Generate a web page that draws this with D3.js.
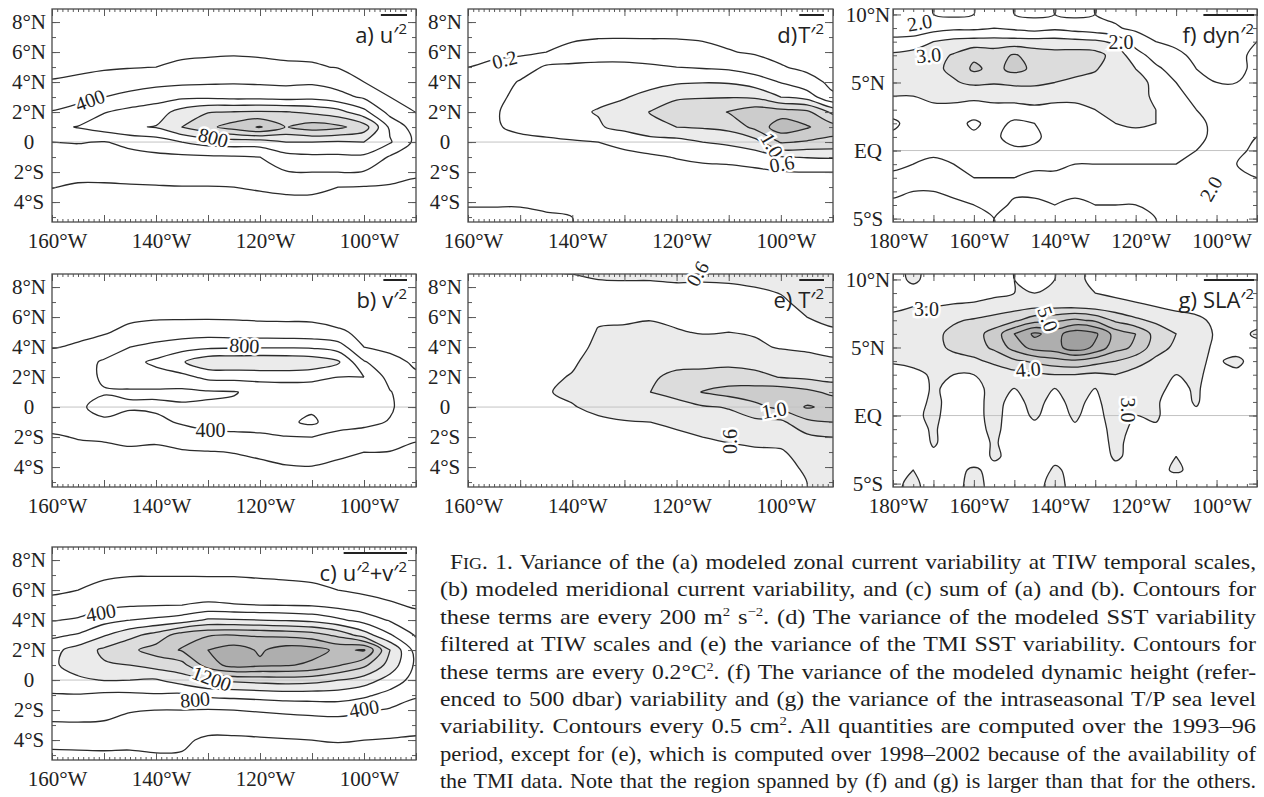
<!DOCTYPE html>
<html><head><meta charset="utf-8">
<script src="https://cdn.jsdelivr.net/npm/d3@7"></script>
<style>body{margin:0;background:#fff}svg{display:block}</style>
</head><body>
<svg id="fig" width="1264" height="797"></svg>
<script>
// ---------------- DATA ----------------
const lonsAE = [-160,-155,-150,-145,-140,-135,-130,-125,-120,-115,-110,-105,-100,-95,-90];
const latsAE = [9,8,7,6,5,4,3,2,1,0,-1,-2,-3,-4,-5];
const lonsFG = [-180,-175,-170,-165,-160,-155,-150,-145,-140,-135,-130,-125,-120,-115,-110,-105,-100,-95,-90];
const latsFG = [10,9,8,7,6,5,4,3,2,1,0,-1,-2,-3,-4,-5];

// (a) u'^2, m2 s-2 : one array per longitude (lonsAE), values from 9N to 5S
const uVar = [
 [40,60,90,120,160,210,310,410,550,400,330,270,205,150,110],
 [40,60,90,130,170,230,350,460,610,410,320,250,180,140,110],
 [40,60,90,130,180,270,400,590,700,390,330,250,180,140,110],
 [40,60,90,140,190,310,460,660,780,450,340,260,185,140,110],
 [40,60,100,150,200,340,520,700,810,500,360,270,190,140,110],
 [40,70,110,160,240,360,560,880,1000,600,360,280,195,145,110],
 [45,80,120,170,255,370,560,990,1150,680,370,280,195,150,115],
 [45,80,120,180,260,380,540,1010,1290,700,380,290,200,150,115],
 [45,80,120,170,250,370,540,1020,1420,700,400,300,215,160,120],
 [45,75,110,160,230,360,520,1010,1190,800,530,390,230,170,125],
 [45,75,110,160,220,370,540,960,1300,800,560,400,230,170,125],
 [40,70,100,140,190,320,470,880,1250,780,560,400,200,160,120],
 [40,60,90,120,160,200,370,660,1100,800,560,390,190,150,115],
 [35,50,75,100,130,160,200,330,560,620,380,290,180,140,110],
 [30,40,60,80,100,130,160,195,300,350,300,220,170,130,100]
];
// (b) v'^2
const vVar = [
 [60,80,100,130,170,195,250,300,330,320,270,180,140,110,90],
 [60,80,110,140,180,210,300,340,360,380,330,210,150,115,90],
 [60,90,120,150,185,270,430,420,390,440,380,220,160,120,95],
 [60,90,130,170,240,400,540,480,380,420,330,250,170,125,95],
 [60,90,130,180,280,460,640,520,370,430,360,230,170,125,95],
 [60,90,130,180,300,520,780,540,360,420,420,300,180,130,100],
 [60,90,130,180,310,560,950,650,380,420,460,350,190,140,100],
 [60,90,130,180,290,570,960,660,390,430,470,360,205,150,110],
 [60,90,130,170,280,580,970,670,450,470,480,370,240,155,110],
 [60,90,120,170,270,580,960,680,460,520,560,390,260,190,120],
 [60,90,120,170,260,570,930,660,470,560,640,400,270,195,125],
 [55,80,110,150,220,500,830,600,480,520,470,350,230,170,120],
 [50,70,100,130,170,200,420,600,520,500,440,330,200,150,110],
 [45,60,85,110,140,170,240,330,410,420,390,290,195,150,110],
 [40,55,70,90,110,140,180,220,270,300,270,215,170,130,100]
];
// (c) u'^2 + v'^2
const uvVar = [
 [80,110,140,180,240,390,560,740,760,680,590,470,380,250,170],
 [80,110,150,200,300,420,620,880,900,760,590,480,380,260,170],
 [90,120,170,260,350,530,780,1040,980,810,560,450,380,250,180],
 [90,130,190,290,380,600,940,1160,1000,800,560,410,350,240,180],
 [90,130,190,300,390,640,1080,1280,1080,780,580,400,340,230,195],
 [90,130,190,300,400,700,1300,1420,1130,900,560,400,320,230,190],
 [90,130,190,290,430,830,1380,1600,1500,1010,640,390,270,170,140],
 [90,130,190,280,410,820,1400,1700,1680,1050,660,400,270,170,140],
 [90,130,180,270,400,800,1380,1570,1640,1080,680,420,280,180,140],
 [85,120,170,260,390,780,1350,1700,1620,1100,700,440,290,190,145],
 [80,110,160,240,380,740,1300,1680,1560,1080,700,460,300,200,150],
 [75,100,140,200,330,640,1150,1560,1420,1000,700,470,310,210,150],
 [70,90,120,170,270,520,900,1620,1250,900,640,430,300,200,150],
 [60,80,110,150,220,380,620,1000,920,720,530,380,280,190,140],
 [55,70,95,130,180,260,380,520,560,520,420,330,250,180,130]
];
// (d) modeled SST variance, C^2
const sstModel = [
 [0.08,0.10,0.13,0.17,0.20,0.25,0.30,0.34,0.34,0.30,0.27,0.25,0.23,0.21,0.18],
 [0.08,0.11,0.14,0.18,0.22,0.28,0.34,0.38,0.38,0.33,0.29,0.26,0.24,0.21,0.18],
 [0.10,0.12,0.16,0.17,0.28,0.42,0.46,0.47,0.44,0.35,0.30,0.27,0.24,0.21,0.18],
 [0.10,0.13,0.17,0.20,0.43,0.48,0.52,0.54,0.50,0.35,0.30,0.27,0.24,0.22,0.19],
 [0.11,0.14,0.18,0.24,0.45,0.50,0.55,0.57,0.52,0.38,0.32,0.28,0.25,0.22,0.20],
 [0.12,0.15,0.19,0.28,0.46,0.52,0.57,0.61,0.58,0.40,0.34,0.30,0.27,0.24,0.21],
 [0.12,0.15,0.19,0.30,0.45,0.54,0.59,0.66,0.66,0.44,0.36,0.31,0.28,0.25,0.22],
 [0.12,0.15,0.19,0.28,0.43,0.55,0.65,0.81,0.74,0.52,0.37,0.32,0.28,0.25,0.22],
 [0.12,0.15,0.19,0.27,0.40,0.57,0.78,0.88,0.80,0.53,0.41,0.33,0.29,0.26,0.23],
 [0.12,0.14,0.18,0.25,0.38,0.59,0.79,0.90,0.82,0.60,0.44,0.34,0.30,0.26,0.23],
 [0.11,0.13,0.16,0.21,0.36,0.58,0.79,1.01,0.86,0.64,0.46,0.34,0.29,0.26,0.23],
 [0.10,0.12,0.15,0.18,0.30,0.50,0.77,1.12,1.05,0.72,0.50,0.36,0.30,0.26,0.23],
 [0.10,0.11,0.13,0.16,0.21,0.39,0.60,1.10,1.32,1.02,0.59,0.39,0.31,0.26,0.22],
 [0.09,0.10,0.12,0.14,0.17,0.25,0.52,1.05,1.22,0.98,0.61,0.40,0.31,0.24,0.20],
 [0.08,0.09,0.10,0.12,0.14,0.17,0.22,0.75,1.08,0.95,0.62,0.40,0.30,0.23,0.20]
];
// (e) TMI SST variance, C^2
const sstTMI = [
 [0.55,0.50,0.45,0.42,0.42,0.43,0.45,0.48,0.50,0.50,0.48,0.46,0.45,0.44,0.43],
 [0.57,0.50,0.46,0.43,0.43,0.45,0.48,0.52,0.54,0.53,0.50,0.48,0.46,0.45,0.44],
 [0.58,0.51,0.47,0.44,0.45,0.47,0.50,0.54,0.56,0.55,0.52,0.50,0.48,0.46,0.45],
 [0.59,0.52,0.48,0.46,0.47,0.50,0.53,0.57,0.59,0.57,0.54,0.51,0.49,0.47,0.46],
 [0.61,0.54,0.50,0.49,0.52,0.55,0.58,0.61,0.63,0.59,0.55,0.52,0.50,0.48,0.47],
 [0.63,0.57,0.54,0.58,0.61,0.63,0.66,0.68,0.69,0.64,0.57,0.53,0.51,0.49,0.48],
 [0.64,0.57,0.55,0.58,0.62,0.65,0.68,0.72,0.74,0.68,0.59,0.54,0.51,0.50,0.48],
 [0.64,0.57,0.55,0.59,0.63,0.66,0.70,0.77,0.80,0.72,0.60,0.55,0.52,0.50,0.48],
 [0.65,0.58,0.55,0.57,0.61,0.67,0.74,0.85,0.87,0.72,0.64,0.56,0.53,0.51,0.49],
 [0.64,0.58,0.56,0.57,0.59,0.66,0.75,0.86,1.01,0.78,0.70,0.60,0.54,0.51,0.49],
 [0.63,0.59,0.57,0.58,0.60,0.68,0.76,0.88,1.08,0.81,0.74,0.63,0.55,0.52,0.50],
 [0.62,0.60,0.58,0.58,0.59,0.62,0.73,0.86,1.10,0.95,0.75,0.66,0.57,0.53,0.51],
 [0.62,0.61,0.59,0.58,0.57,0.59,0.67,0.79,1.12,1.05,0.76,0.67,0.58,0.54,0.52],
 [0.63,0.63,0.62,0.60,0.58,0.58,0.64,0.76,1.05,1.22,0.95,0.76,0.68,0.63,0.60],
 [0.63,0.63,0.63,0.62,0.59,0.58,0.61,0.72,0.95,1.15,1.00,0.80,0.60,0.62,0.63]
];
// (f) modeled dynamic height variance, cm^2 : one array per longitude (lonsFG), 10N to 5S
const dynVar = [
 [2.1,2.3,2.6,3.1,3.3,3.2,3.0,2.7,2.4,2.6,2.7,2.6,2.4,2.1,1.9,1.8],
 [2.0,2.2,2.7,3.2,3.4,3.3,3.0,2.8,2.7,2.7,2.6,2.5,2.3,2.0,1.9,1.8],
 [2.0,2.3,3.0,3.3,3.4,3.3,3.1,2.9,2.8,2.7,2.6,2.4,2.2,2.0,1.8,1.7],
 [1.9,2.4,3.15,3.55,3.6,3.45,3.1,2.9,2.7,2.7,2.7,2.5,2.4,2.1,1.9,1.8],
 [2.0,2.4,3.2,3.9,4.1,3.6,3.1,2.8,2.4,2.6,2.7,2.6,2.5,2.2,2.0,1.9],
 [2.1,2.5,3.2,3.8,3.85,3.55,3.1,2.9,2.7,2.6,2.7,2.6,2.5,2.3,2.2,2.0],
 [2.0,2.4,3.2,4.05,4.15,3.6,3.2,2.8,2.4,2.3,2.6,2.6,2.5,2.1,1.9,1.8],
 [1.9,2.3,3.2,3.8,3.9,3.6,3.2,2.9,2.5,2.4,2.6,2.6,2.4,2.1,1.9,1.8],
 [2.0,2.4,3.2,3.7,3.7,3.5,3.1,2.9,2.7,2.7,2.7,2.6,2.4,2.1,2.0,1.9],
 [1.9,2.3,3.15,3.75,3.65,3.4,3.1,2.9,2.8,2.7,2.7,2.5,2.3,2.1,1.9,1.8],
 [2.0,2.2,3.1,3.7,3.55,3.3,3.1,3.0,2.8,2.7,2.7,2.5,2.3,2.1,2.0,1.9],
 [1.9,2.05,2.9,3.3,3.2,3.2,3.1,3.1,3.0,2.8,2.7,2.5,2.3,2.1,2.0,1.9],
 [1.8,1.9,2.3,2.7,3.0,3.3,3.2,3.1,3.1,2.8,2.6,2.5,2.3,2.1,2.0,1.9],
 [1.8,1.85,2.0,2.3,2.6,2.8,2.9,3.0,3.0,2.8,2.6,2.5,2.3,2.1,2.0,2.0],
 [1.9,1.8,1.9,2.1,2.3,2.5,2.6,2.7,2.7,2.7,2.6,2.5,2.3,2.1,2.05,2.1],
 [1.8,1.8,1.8,1.9,2.0,2.2,2.4,2.5,2.6,2.6,2.5,2.4,2.2,2.1,2.1,2.2],
 [1.7,1.7,1.8,1.8,1.9,2.0,2.2,2.3,2.4,2.4,2.3,2.2,2.1,2.1,2.2,2.3],
 [1.7,1.8,1.9,1.9,1.9,2.0,2.1,2.2,2.2,2.2,2.1,2.0,2.0,2.1,2.2,2.3],
 [1.8,1.9,2.0,2.1,2.1,2.1,2.0,2.0,2.0,2.0,1.9,1.9,2.0,2.1,2.2,2.3]
];
// (g) T/P sea level anomaly variance, cm^2
const slaVar = [
 [2.9,2.8,2.9,3.15,3.3,3.2,3.05,2.8,2.7,2.9,2.95,2.8,2.7,2.8,2.9,2.9],
 [3.05,2.9,3.0,3.25,3.35,3.3,3.1,2.9,2.8,2.8,2.9,2.85,2.7,2.8,3.0,3.1],
 [2.9,2.8,3.0,3.3,3.4,3.35,3.1,3.05,3.05,3.1,3.1,3.05,3.05,2.9,2.8,2.8],
 [3.0,2.8,3.05,3.45,3.6,3.6,3.3,3.0,2.9,2.85,2.8,2.8,2.8,2.9,2.9,2.9],
 [2.8,2.8,3.1,3.55,3.8,3.75,3.4,3.0,2.9,2.9,2.9,2.85,2.8,2.8,3.05,3.1],
 [2.9,2.9,3.2,3.7,4.2,4.1,3.6,3.2,3.1,3.1,3.1,3.1,3.05,3.05,2.9,2.9],
 [3.0,3.0,3.3,3.9,5.0,4.7,3.9,3.3,3.0,2.9,2.85,2.8,2.8,2.9,2.9,3.0],
 [2.9,3.0,3.4,4.3,5.6,5.2,4.1,3.4,3.2,3.1,3.05,2.9,2.8,2.8,2.8,2.9],
 [3.0,3.0,3.4,4.4,5.3,5.3,4.3,3.5,3.0,2.9,2.85,2.8,2.8,2.9,3.05,3.1],
 [3.1,3.0,3.4,4.6,5.8,5.8,4.4,3.5,3.2,3.1,3.05,2.95,2.8,2.8,2.9,2.9],
 [2.9,3.0,3.3,4.4,5.6,5.4,4.2,3.4,3.0,2.9,2.85,2.8,2.8,2.8,2.8,2.9],
 [2.8,2.9,3.2,3.9,4.8,4.7,4.0,3.5,3.3,3.25,3.2,3.15,3.1,3.05,2.9,2.8],
 [2.9,2.8,3.1,3.6,4.5,4.4,3.7,3.3,3.2,3.1,3.0,2.9,2.85,2.9,3.0,2.9],
 [3.0,2.9,3.0,3.4,3.8,3.7,3.4,3.2,3.1,3.05,3.05,2.95,2.8,2.8,2.9,2.9],
 [2.9,2.8,2.9,3.2,3.5,3.4,3.1,3.0,2.9,2.8,2.8,2.8,2.9,3.0,3.05,2.8],
 [2.8,2.8,2.85,3.1,3.2,3.2,3.05,3.05,3.05,3.05,2.9,2.8,2.8,2.8,2.9,3.0],
 [2.7,2.7,2.8,2.9,2.95,2.9,2.95,2.9,2.8,2.7,2.8,2.7,2.8,2.9,2.8,2.8],
 [2.8,2.7,2.7,2.8,2.9,2.8,3.1,2.9,2.7,2.6,2.7,2.8,2.7,2.7,2.8,2.9],
 [2.9,2.8,2.8,2.9,3.05,2.9,2.8,2.7,2.6,2.6,2.7,2.7,2.6,2.7,2.8,2.9]
];

// contour levels
const uLevels = [200,400,600,800,1000,1200,1400];
const vLevels = [200,400,600,800,1000];
const uvLevels = [200,400,600,800,1000,1200,1400,1600,1800];
const sstModelLevels = [0.2,0.4,0.6,0.8,1.0,1.2];
const sstTMILevels = [0.6,0.8,1.0,1.2,1.4];
const dynLevels = [2.0,2.5,3.0,3.5,4.0];
const slaLevels = [3.0,3.5,4.0,4.5,5.0,5.5];

// contour labels: [lon, lat, text, angle]
const uLabels = [[-152.7,2.8,"400",-20],[-129,0.3,"800",15]];
const vLabels = [[-123,4.1,"800",3],[-129.5,-1.5,"400",0]];
const uvLabels = [[-150.6,4.5,"400",-10],[-129.3,0.1,"1200",20],[-132.5,-1.3,"800",-5],[-100,-1.9,"400",-10]];
const sstModelLabels = [[-153,5.5,"0.2",-15],[-101.7,-0.2,"1.0",60],[-99.8,-1.45,"0.6",-10]];
const sstTMILabels = [[-116,8.9,"0.6",-60],[-101.3,-0.2,"1.0",-10],[-109.8,-2.3,"0.6",-90]];
const dynLabels = [[-173.4,9.4,"2.0",-10],[-171.2,7.0,"3.0",-5],[-123.6,8.0,"2.0",0],[-101.4,-2.8,"2.0",-60]];
const slaLabels = [[-171.7,7.85,"3.0",0],[-141.7,7.1,"5.0",70],[-146.6,3.4,"4.0",-5],[-122,0.4,"3.0",90]];

// tick labels
const lonTicksAE = [-160,-140,-120,-100];
const lonTicksFG = [-180,-160,-140,-120,-100];
const lonTickText = {"-180":"180°W","-160":"160°W","-140":"140°W","-120":"120°W","-100":"100°W"};
const latTicksAE = [8,6,4,2,0,-2,-4];
const latTickTextAE = ["8°N","6°N","4°N","2°N","0","2°S","4°S"];
const latTicksFG = [10,5,0,-5];
const latTickTextFG = ["10°N","5°N","EQ","5°S"];

// panel titles: [prefix, [segment, kind]...]
const titles = {
 a:["a)",[["u′",""],["2","sup"]]],
 b:["b)",[["v′",""],["2","sup"]]],
 c:["c)",[["u′",""],["2","sup"],["+v′",""],["2","sup"]]],
 d:["d)",[["T′",""],["2","sup"]]],
 e:["e)",[["T′",""],["2","sup"]]],
 f:["f)",[["dyn′",""],["2","sup"]]],
 g:["g)",[["SLA′",""],["2","sup"]]]
};

const captionLines = [
 "F<IG>. 1. Variance of the (a) modeled zonal current variability at TIW temporal scales,",
 "(b) modeled meridional current variability, and (c) sum of (a) and (b). Contours for",
 "these terms are every 200 m^2 s^−2. (d) The variance of the modeled SST variability",
 "filtered at TIW scales and (e) the variance of the TMI SST variability. Contours for",
 "these terms are every 0.2°C^2. (f) The variance of the modeled dynamic height (refer-",
 "enced to 500 dbar) variability and (g) the variance of the intraseasonal T/P sea level",
 "variability. Contours every 0.5 cm^2. All quantities are computed over the 1993–96",
 "period, except for (e), which is computed over 1998–2002 because of the availability of",
 "the TMI data. Note that the region spanned by (f) and (g) is larger than that for the others."
];

// ---------------- DRAWING ----------------
const svg = d3.select("#fig");
const SERIF = "'Liberation Serif','Times New Roman',serif";
const SANS = "'Open Sans','DejaVu Sans',sans-serif";
const grays = ["#ebebeb","#dcdcdc","#cccccc","#bdbdbd","#aeaeae","#a0a0a0"];

const panels = [
 {id:"a", x:52, y:9,   w:364, h:213, lons:lonsAE, lats:latsAE, data:uVar, levels:uLevels, fillFrom:800, labels:uLabels, type:"AE"},
 {id:"b", x:52, y:274, w:364, h:213, lons:lonsAE, lats:latsAE, data:vVar, levels:vLevels, fillFrom:800, labels:vLabels, type:"AE"},
 {id:"c", x:52, y:547, w:364, h:213, lons:lonsAE, lats:latsAE, data:uvVar, levels:uvLevels, fillFrom:800, labels:uvLabels, type:"AE"},
 {id:"d", x:468, y:9,  w:365, h:213, lons:lonsAE, lats:latsAE, data:sstModel, levels:sstModelLevels, fillFrom:0.6, labels:sstModelLabels, type:"AE"},
 {id:"e", x:468, y:274,w:365, h:213, lons:lonsAE, lats:latsAE, data:sstTMI, levels:sstTMILevels, fillFrom:0.6, labels:sstTMILabels, type:"AE"},
 {id:"f", x:893, y:9,  w:364, h:213, lons:lonsFG, lats:latsFG, data:dynVar, levels:dynLevels, fillFrom:3.0, labels:dynLabels, type:"FG"},
 {id:"g", x:893, y:274,w:364, h:213, lons:lonsFG, lats:latsFG, data:slaVar, levels:slaLevels, fillFrom:3.0, labels:slaLabels, type:"FG"}
];

function drawPanel(p) {
  const g = svg.append("g").attr("transform", `translate(${p.x},${p.y})`);
  const lonDom = p.type === "AE" ? [-160,-90] : [-180,-90];
  const latDom = p.type === "AE" ? [-5.33, 8.87] : [-5.25, 10.4];
  const x = d3.scaleLinear().domain(lonDom).range([0, p.w]);
  const y = d3.scaleLinear().domain(latDom).range([p.h, 0]);
  const clipId = "clip-" + p.id;
  svg.append("clipPath").attr("id", clipId).append("rect").attr("width", p.w).attr("height", p.h);
  const plot = g.append("g").attr("clip-path", `url(#${clipId})`);

  // padded grid (edge values replicated so contour lines leave the frame cleanly)
  const nx = p.lons.length, ny = p.lats.length, NX = nx + 2, NY = ny + 2;
  const vals = new Array(NX * NY);
  for (let j = 0; j < NY; j++) for (let i = 0; i < NX; i++) {
    const ci = Math.min(nx - 1, Math.max(0, i - 1));
    const rj = Math.min(ny - 1, Math.max(0, j - 1));
    vals[j * NX + i] = p.data[ci][rj];
  }
  const dlon = p.lons[1] - p.lons[0], dlat = p.lats[0] - p.lats[1];
  const toPx = pt => [x(p.lons[0] + (pt[0] - 1.5) * dlon), y(p.lats[0] - (pt[1] - 1.5) * dlat)];
  const contours = d3.contours().size([NX, NY]).thresholds(p.levels)(vals);
  const line = d3.line().curve(d3.curveCatmullRomClosed.alpha(0.5));
  const mpPath = mp => mp.coordinates.map(poly => poly.map(r => line(r.slice(0, -1).map(toPx))).join("")).join("");

  let k = 0;
  contours.forEach(c => {
    if (c.value >= p.fillFrom - 1e-9) {
      if (c.coordinates.length)
        plot.append("path").attr("d", mpPath(c)).attr("fill", grays[Math.min(k, grays.length - 1)]).attr("fill-rule", "evenodd");
      k++;
    }
  });
  plot.append("line").attr("x1", 0).attr("x2", p.w).attr("y1", y(0)).attr("y2", y(0))
    .attr("stroke", "#c4c4c4").attr("stroke-width", 1);
  contours.forEach(c => {
    if (!c.coordinates.length) return;
    plot.append("path").attr("d", mpPath(c)).attr("fill", "none")
      .attr("stroke", "#2b2b2b").attr("stroke-width", 1.3).attr("stroke-linejoin", "round");
  });

  // ticks (inward on all sides)
  const lonMinorStep = p.type === "AE" ? 1 : 2.5;
  const lonMinor = d3.range(lonDom[0], lonDom[1] + 1e-6, lonMinorStep);
  const lonMajor = d3.range(lonDom[0], lonDom[1] + 1e-6, 10);
  const latMinor = d3.range(Math.ceil(latDom[0]), Math.floor(latDom[1]) + 1e-6, 1);
  const latMajor = p.type === "AE" ? latTicksAE : latTicksFG;
  const mk = (axis, tr) => {
    const a = g.append("g").attr("transform", tr).call(axis);
    a.select(".domain").remove(); a.selectAll("text").remove();
    a.selectAll("line").attr("stroke", "#5a5a5a").attr("stroke-width", 1);
  };
  mk(d3.axisBottom(x).tickValues(lonMinor).tickSize(-3).tickSizeOuter(0), `translate(0,${p.h})`);
  mk(d3.axisBottom(x).tickValues(lonMajor).tickSize(-7).tickSizeOuter(0), `translate(0,${p.h})`);
  mk(d3.axisTop(x).tickValues(lonMinor).tickSize(-3).tickSizeOuter(0), `translate(0,0)`);
  mk(d3.axisTop(x).tickValues(lonMajor).tickSize(-7).tickSizeOuter(0), `translate(0,0)`);
  mk(d3.axisLeft(y).tickValues(latMinor).tickSize(-4).tickSizeOuter(0), `translate(0,0)`);
  mk(d3.axisLeft(y).tickValues(latMajor).tickSize(-8).tickSizeOuter(0), `translate(0,0)`);
  mk(d3.axisRight(y).tickValues(latMinor).tickSize(-4).tickSizeOuter(0), `translate(${p.w},0)`);
  mk(d3.axisRight(y).tickValues(latMajor).tickSize(-8).tickSizeOuter(0), `translate(${p.w},0)`);
  g.append("rect").attr("width", p.w).attr("height", p.h).attr("fill", "none")
    .attr("stroke", "#4a4a4a").attr("stroke-width", 1.3);

  // contour labels (not clipped: some overlap the frame)
  p.labels.forEach(([lo, la, t, ang]) => {
    g.append("text").attr("transform", `translate(${x(lo)},${y(la)}) rotate(${ang})`)
      .attr("text-anchor", "middle").attr("dominant-baseline", "central")
      .attr("font-family", SERIF).attr("font-size", 20).attr("fill", "#222")
      .attr("stroke", "#fff").attr("stroke-width", 5).attr("paint-order", "stroke")
      .text(t);
  });

  // tick labels
  const lonLab = p.type === "AE" ? lonTicksAE : lonTicksFG;
  const bl = g.append("g").attr("transform", `translate(5,${p.h})`)
    .call(d3.axisBottom(x).tickValues(lonLab).tickSize(0).tickPadding(11).tickFormat(v => lonTickText[String(v)]));
  bl.select(".domain").remove();
  bl.attr("font-family", SERIF).attr("font-size", 21);
  bl.selectAll("text").attr("fill", "#222");
  const latTxt = p.type === "AE" ? latTickTextAE : latTickTextFG;
  const ll = g.append("g")
    .call(d3.axisLeft(y).tickValues(latMajor).tickSize(0).tickPadding(p.type === "AE" ? 23 : 25)
      .tickFormat((v, i) => latTxt[i]));
  ll.select(".domain").remove();
  ll.attr("font-family", SERIF).attr("font-size", 21);
  ll.selectAll("text").attr("fill", "#222").attr("text-anchor", "middle");

  // title with overline
  const [prefix, segs] = titles[p.id];
  const rightX = p.type === "AE" ? p.w - 9 : p.w - 3;
  const tb = g.append("text").attr("x", rightX).attr("y", 34).attr("text-anchor", "end")
    .attr("font-family", SANS).attr("font-size", 22).attr("fill", "#222");
  let up = false;
  segs.forEach(([s, kind]) => {
    const ts = tb.append("tspan").text(s);
    if (kind === "sup") { ts.attr("font-size", 15).attr("dy", -9); up = true; }
    else if (up) { ts.attr("dy", 9); up = false; }
  });
  const bb = tb.node().getBBox();
  g.append("line").attr("x1", bb.x + 1).attr("x2", bb.x + bb.width).attr("y1", 6).attr("y2", 6)
    .attr("stroke", "#222").attr("stroke-width", 2);
  g.append("text").attr("x", bb.x - (p.id === "d" ? 1 : 6)).attr("y", 34).attr("text-anchor", "end")
    .attr("font-family", SANS).attr("font-size", 22).attr("fill", "#222").text(prefix);
}
panels.forEach(drawPanel);

// caption (justified: a little extra word space, then glyphs widened to fill the measure)
const capLeft = 440, capRight = 1256, capTop = 569, capStep = 27.4;
captionLines.forEach((ln, i) => {
  const x0 = i === 0 ? capLeft + 10 : capLeft;
  const t = svg.append("text").attr("x", x0).attr("y", capTop + i * capStep)
    .attr("font-family", SERIF).attr("font-size", 21.5).attr("fill", "#1e1e1e")
    .style("word-spacing", "1.5px");
  const re = /<([^>]*)>|\^([−\-]?\d+)/g;
  let last = 0, m, up = false;
  const add = (s, opt) => {
    if (!s) return;
    const ts = t.append("tspan").text(s);
    if (opt === "sup") { ts.attr("font-size", 13).attr("dy", -8); up = true; }
    else {
      if (up) { ts.attr("dy", 8); up = false; }
      if (opt === "sc") ts.attr("font-size", 16.5);
    }
  };
  while ((m = re.exec(ln)) !== null) {
    add(ln.slice(last, m.index));
    if (m[1] !== undefined) add(m[1], "sc"); else add(m[2], "sup");
    last = re.lastIndex;
  }
  add(ln.slice(last));
  t.attr("textLength", capRight - x0).attr("lengthAdjust", "spacingAndGlyphs");
});
</script>
</body></html>
